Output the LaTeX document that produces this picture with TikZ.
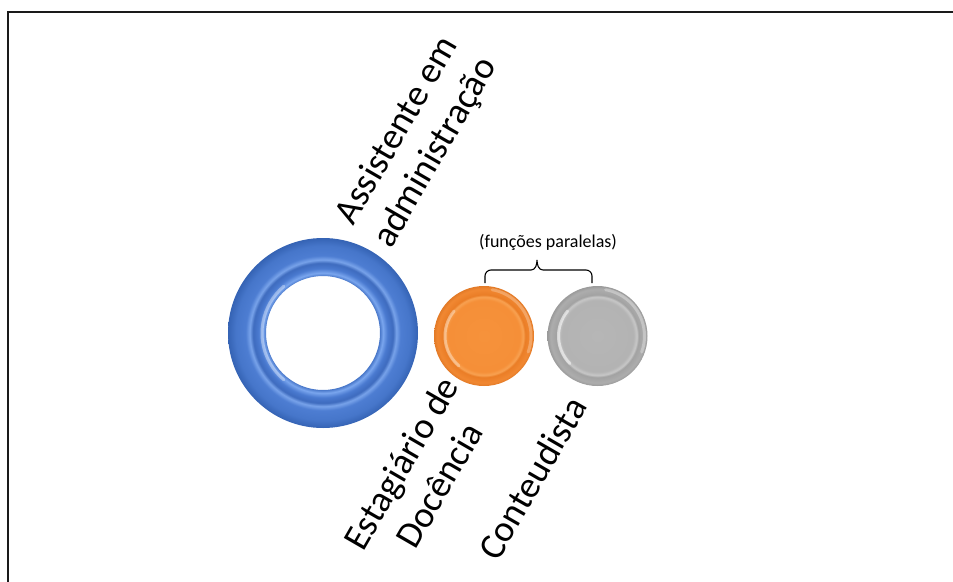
\documentclass[tikz,border=0pt]{standalone}
\usepackage{fontspec}
\setmainfont{Carlito}
\usepackage{xcolor}
\definecolor{frameC}{HTML}{1A1A1A}
\definecolor{rA}{HTML}{FFFFFF}
\definecolor{rB}{HTML}{4473C6}
\definecolor{rC}{HTML}{7AA6EE}
\definecolor{rD}{HTML}{4A7AD0}
\definecolor{rK}{HTML}{3E6BBE}
\definecolor{rE}{HTML}{78A3EA}
\definecolor{rF}{HTML}{4D7DD2}
\definecolor{rH}{HTML}{4676CA}
\definecolor{rG}{HTML}{3563B4}
\definecolor{oA}{HTML}{F6923B}
\definecolor{oB}{HTML}{F58F38}
\definecolor{oC}{HTML}{F8A252}
\definecolor{oD}{HTML}{EA7D26}
\definecolor{oE}{HTML}{F18832}
\definecolor{oF}{HTML}{E27A27}
\definecolor{gA}{HTML}{B6B6B6}
\definecolor{gB}{HTML}{B3B3B3}
\definecolor{gC}{HTML}{C8C8C8}
\definecolor{gD}{HTML}{A2A2A2}
\definecolor{gE}{HTML}{ADADAD}
\definecolor{gF}{HTML}{9A9A9A}
\pgfdeclareradialshading{ringshade}{\pgfpoint{0bp}{0bp}}{color(0bp)=(rA); color(14.9bp)=(rB); color(15.8bp)=(rC); color(17bp)=(rD); color(18.4bp)=(rK); color(19.3bp)=(rE); color(20.4bp)=(rF); color(23bp)=(rH); color(25bp)=(rG); color(50bp)=(rG)}
\pgfdeclareradialshading{orangeshade}{\pgfpoint{0bp}{0bp}}{color(0bp)=(oA); color(18bp)=(oB); color(19.6bp)=(oC); color(20.6bp)=(oD); color(23.5bp)=(oE); color(25bp)=(oF); color(50bp)=(oF)}
\pgfdeclareradialshading{grayshade}{\pgfpoint{0bp}{0bp}}{color(0bp)=(gA); color(18bp)=(gB); color(19.6bp)=(gC); color(20.6bp)=(gD); color(23.5bp)=(gE); color(25bp)=(gF); color(50bp)=(gF)}
\begin{document}
\begin{tikzpicture}[x=1pt,y=-1pt,
  bigtext/.style={font=\fontsize{37}{44}\selectfont, align=center, rotate=60, inner sep=0pt},
  smalltext/.style={font=\fontsize{18}{22}\selectfont, inner sep=0pt},
  framestyle/.style={draw=frameC, line width=2pt},
  bracestyle/.style={draw=black, line width=1.1pt},
  glint/.style={line width=3pt, white, opacity=0.35, line cap=round}]
\useasboundingbox (0,0) rectangle (953,581);
% frame
\coordinate (fb) at (8,582);
\coordinate (ftl) at (8,12);
\coordinate (ftr) at (955,12);
\draw[framestyle] (fb) -- (ftl) -- (ftr);
% ring
\coordinate (ringc) at (323,333);
\path[even odd rule, shading=ringshade] (ringc) circle (95) (ringc) circle (57);
\node[circle, minimum size=190pt, inner sep=0pt] (ring) at (ringc) {};
\draw[glint] (ringc) ++(130:61) arc[start angle=130, end angle=230, radius=61];
% orange disc
\coordinate (orc) at (484,336);
\path[shading=orangeshade] (orc) circle (50);
\node[circle, minimum size=100pt, inner sep=0pt] (orange) at (orc) {};
\draw[glint] (orc) ++(130:39) arc[start angle=130, end angle=220, radius=39];
\draw[glint, opacity=0.25] (orc) ++(-80:47) arc[start angle=-80, end angle=20, radius=47];
% gray disc
\coordinate (grc) at (597.5,336);
\path[shading=grayshade] (grc) circle (50);
\node[circle, minimum size=100pt, inner sep=0pt] (gray) at (grc) {};
\draw[glint, opacity=0.5] (grc) ++(135:39) arc[start angle=135, end angle=220, radius=39];
\draw[glint, opacity=0.3] (grc) ++(-80:47) arc[start angle=-80, end angle=20, radius=47];
% labels
\node[bigtext] (assist) at (417,142) {Assistente em\\administração};
\node[bigtext] (estag) at (420,474) {Estagiário de\\Docência};
\node[bigtext] (cont) at (532,478) {Conteudista};
\node[smalltext] (par) at (548,242) {(funções paralelas)};
% brace
\coordinate (bl) at (485,283);
\coordinate (br) at (592,283);
\coordinate (bt) at (537,260);
\draw[bracestyle] (bl) -- ++(0,-7) to[out=90,in=180] ++(6,-6) -- (531,270) to[out=0,in=-90] (bt) to[out=-90,in=180] (543,270) -- (586,270) to[out=0,in=90] (592,276) -- (br);
\end{tikzpicture}
\end{document}
